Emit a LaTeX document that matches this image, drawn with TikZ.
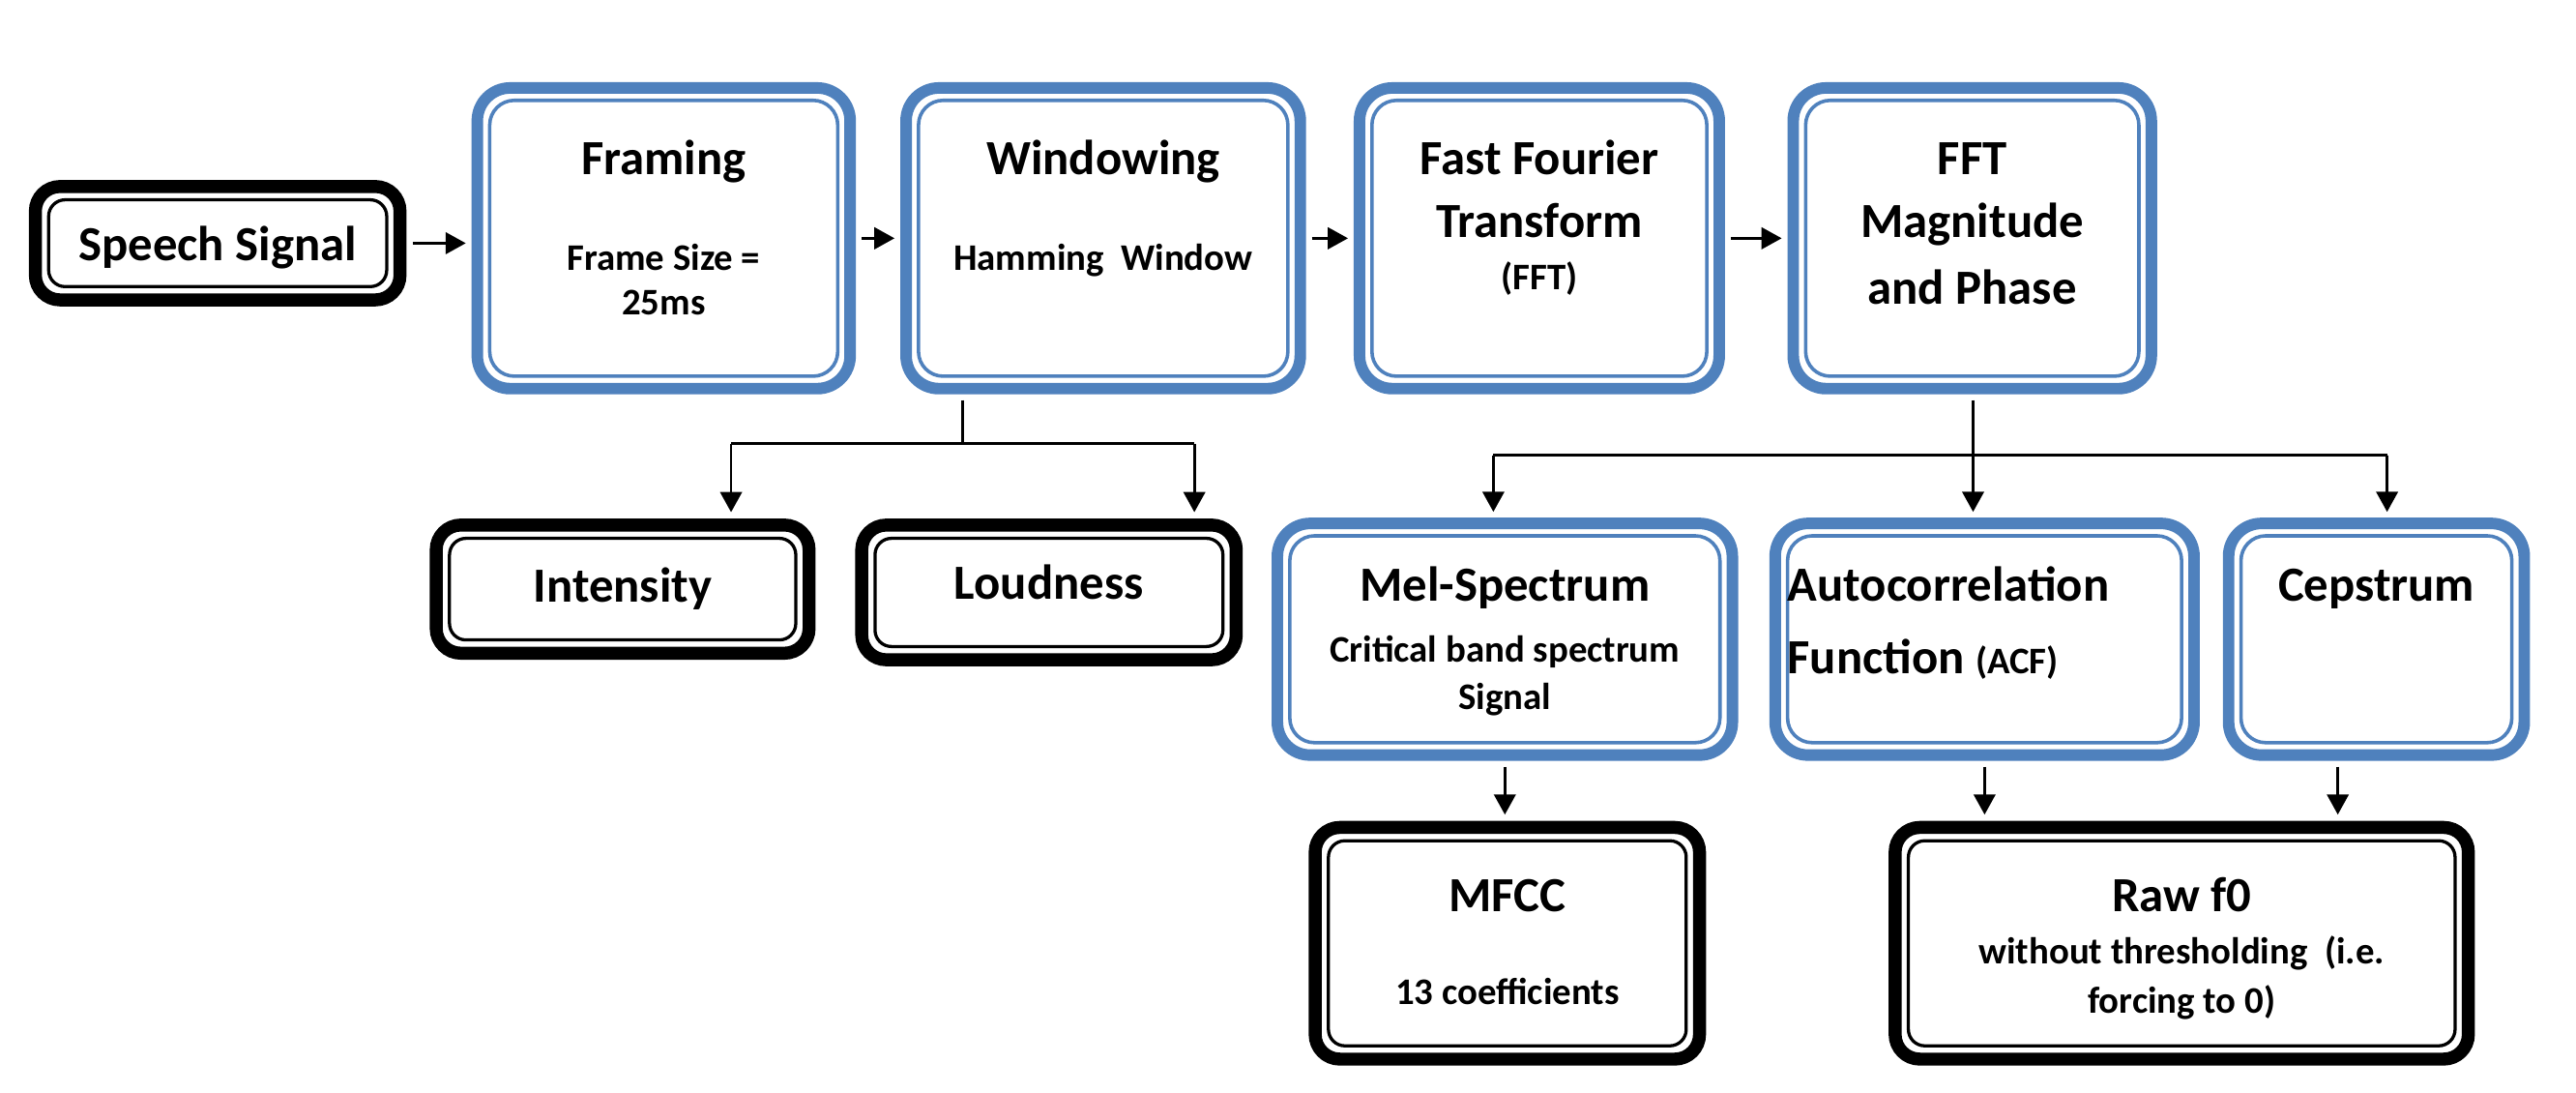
\documentclass[tikz,border=0pt]{standalone}
\usepackage{fontspec}
\setmainfont{Carlito}
\usepackage{tikz}
\usetikzlibrary{arrows.meta}
\definecolor{stageblue}{RGB}{79,129,189}

\newcommand{\subtxt}{\fontsize{13}{16}\selectfont}
% lines of a box, first baseline on top
\newcommand{\boxlines}[1]{\vtop{\baselineskip=22pt\halign{\hfil##\hfil\cr#1\crcr}}}
\newcommand{\rowgap}[1]{\noalign{\vskip#1}}

\tikzset{
	boxbase/.style={fill=white, inner xsep=0pt, font=\bfseries\fontsize{17}{22}\selectfont},
	stage/.style={boxbase, draw=stageblue, line width=4pt, rounded corners=0.4cm,
		path picture={\draw[stageblue, line width=1.2pt, rounded corners=0.3cm]
			([shift={(4.3pt,-4.3pt)}]path picture bounding box.north west) rectangle
			([shift={(-4.3pt,4.3pt)}]path picture bounding box.south east);}},
	result/.style={boxbase, draw=black, line width=4.5pt, rounded corners=0.3cm,
		path picture={\draw[black, line width=1.1pt, rounded corners=0.2cm]
			([shift={(4.6pt,-4.6pt)}]path picture bounding box.north west) rectangle
			([shift={(-4.6pt,4.6pt)}]path picture bounding box.south east);}},
	toprow/.style={text height=1.05cm, text depth=2.61cm, inner ysep=0pt},
	midrow/.style={text height=0.95cm, text depth=1.87cm, inner ysep=0pt},
	botrow/.style={text height=1.03cm, text depth=1.79cm, inner ysep=0pt},
	arr/.style={line width=0.9pt, -{Triangle[length=7pt,width=7.5pt]}},
	conn/.style={line width=0.9pt}
}

\begin{document}
\begin{tikzpicture}[x=0.02cm,y=-0.02cm]
	\useasboundingbox[fill=white] (0,0) rectangle (1568,665);

	% processing chain
	\node[result, minimum width=4.44cm, minimum height=1.38cm, text depth=0pt] (speech) at (132.5,148) {Speech Signal};
	\node[stage, toprow, minimum width=4.54cm] (framing) at (404,145)
		{\boxlines{Framing\cr\rowgap{11.4pt}\subtxt Frame Size =\cr\rowgap{-6.7pt}\subtxt 25ms}};
	\node[stage, toprow, minimum width=4.8cm] (windowing) at (671.5,145)
		{\boxlines{Windowing\cr\rowgap{11.4pt}\subtxt Hamming\ \ Window}};
	\node[stage, toprow, minimum width=4.38cm] (fft) at (937,145)
		{\boxlines{Fast Fourier\cr Transform\cr\rowgap{-4pt}\subtxt (FFT)}};
	\node[stage, toprow, minimum width=4.36cm] (mag) at (1200.5,145)
		{\boxlines{FFT\cr Magnitude\cr\rowgap{1pt}and Phase}};

	% features
	\node[result, minimum width=4.54cm, minimum height=1.56cm] (intensity) at (379,358.5) {Intensity};
	\node[result, minimum width=4.56cm, minimum height=1.64cm, text depth=7pt] (loudness) at (638.5,360.5) {Loudness};
	\node[stage, midrow, minimum width=5.54cm] (mel) at (916,389)
		{\boxlines{Mel-Spectrum\cr\rowgap{-1pt}\subtxt Critical band spectrum\cr\rowgap{-5.6pt}\subtxt Signal}};
	\node[stage, midrow, minimum width=5.1cm] (acf) at (1208,389)
		{\boxlines{Autocorrelation\hspace*{0.88cm}\hfill\cr\rowgap{3pt}Function {\subtxt (ACF)}\hfill}};
	\node[stage, midrow, minimum width=3.6cm] (cep) at (1446.5,389) {\boxlines{Cepstrum}};
	\node[result, botrow, minimum width=4.68cm] (mfcc) at (917.5,574)
		{\boxlines{MFCC\cr\rowgap{10pt}\subtxt 13 coefficients}};
	\node[result, botrow, minimum width=6.98cm] (raw) at (1328,574)
		{\boxlines{Raw f0\cr\rowgap{-4pt}\subtxt without thresholding\ \ (i.e.\cr\rowgap{-5pt}\subtxt forcing to 0)}};

	\draw[arr, shorten <=2.2pt, shorten >=2pt] (speech.east) -- (speech.east -| framing.west);
	\draw[arr, shorten <=2pt, shorten >=2pt] (framing) -- (windowing);
	\draw[arr, shorten <=2pt, shorten >=2pt] (windowing) -- (fft);
	\draw[arr, shorten <=2pt, shorten >=2pt] (fft) -- (mag);

	\coordinate (wsplit) at (586,270);
	\coordinate (wleft) at (445,270);
	\coordinate (wright) at (727,270);
	\draw[conn, shorten <=2pt] (wsplit |- windowing.south) -- (wsplit);
	\draw[conn] (wleft) -- (wright);
	\draw[arr, shorten >=2.2pt] (wleft) -- (wleft |- intensity.north);
	\draw[arr, shorten >=2.2pt] (wright) -- (wright |- loudness.north);

	\coordinate (msplit) at (1201,277);
	\coordinate (mleft) at (909,277);
	\coordinate (mright) at (1453,277);
	\draw[conn, shorten <=2pt] (msplit |- mag.south) -- (msplit);
	\draw[conn] (mleft) -- (mright);
	\draw[arr, shorten >=2pt] (mleft) -- (mleft |- mel.north);
	\draw[arr, shorten >=2pt] (msplit) -- (msplit |- acf.north);
	\draw[arr, shorten >=2pt] (mright) -- (mright |- cep.north);

	\draw[arr, shorten <=2pt, shorten >=2.2pt] (mel.south) -- (mel.south |- mfcc.north);
	\draw[arr, shorten <=2pt, shorten >=2.2pt] (acf.south) -- (acf.south |- raw.north);
	\draw[arr, shorten <=2pt, shorten >=2.2pt] ([xshift=-0.47cm]cep.south) -- ([xshift=-0.47cm]cep.south |- raw.north);
\end{tikzpicture}
\end{document}
